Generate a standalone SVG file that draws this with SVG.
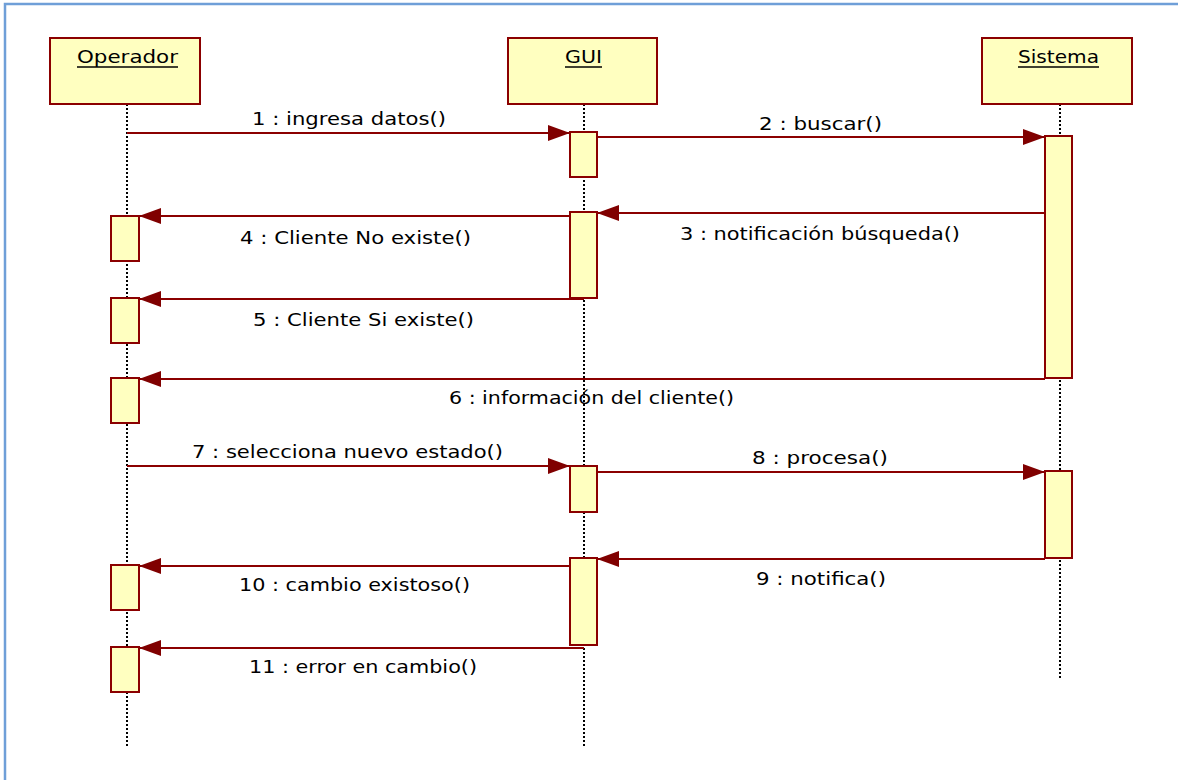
<svg xmlns="http://www.w3.org/2000/svg" width="1178" height="780" viewBox="0 0 1178 780">
  <style>
    .frame { fill: none; stroke: #6f9fd8; stroke-width: 2.5; }
    .head { fill: #ffffc0; stroke: #8b0000; stroke-width: 2; }
    .bar { fill: #ffffc0; stroke: #8b0000; stroke-width: 2; }
    .life { stroke: #000; stroke-width: 2; stroke-dasharray: 2 2; fill: none; }
    .msg { stroke: #8b0000; stroke-width: 2; fill: none; marker-end: url(#arrow); }
    .lbl { font-family: "DejaVu Sans", Verdana, sans-serif; font-size: 18px; fill: #000; text-anchor: middle; }
    .name { font-family: "DejaVu Sans", Verdana, sans-serif; font-size: 18px; fill: #000; text-anchor: middle; }
    .ul { stroke: #000; stroke-width: 1.5; }
  </style>
  <defs>
    <marker id="arrow" markerUnits="userSpaceOnUse" markerWidth="24" markerHeight="18" refX="22" refY="8" orient="auto">
      <path d="M0,0 L22,8 L0,16 z" fill="#800000"/>
    </marker>
  </defs>

  <rect width="1178" height="780" fill="#fff"/>
  <rect class="frame" x="5" y="4" width="1200" height="800"/>

  <!-- lifelines -->
  <g id="lifelines">
    <line class="life" x1="127" y1="104" x2="127" y2="746"/>
    <line class="life" x1="584" y1="104" x2="584" y2="746"/>
    <line class="life" x1="1060" y1="104" x2="1060" y2="680"/>
  </g>

  <!-- objects -->
  <g id="operador">
    <rect class="head" x="50" y="38" width="150" height="66"/>
    <text class="name" x="127.5" y="63" textLength="101" lengthAdjust="spacingAndGlyphs">Operador</text>
    <line class="ul" x1="77" y1="67" x2="178" y2="67"/>
    <rect class="bar" x="111" y="216" width="28" height="45"/>
    <rect class="bar" x="111" y="298" width="28" height="45"/>
    <rect class="bar" x="111" y="378" width="28" height="45"/>
    <rect class="bar" x="111" y="565" width="28" height="45"/>
    <rect class="bar" x="111" y="647" width="28" height="45"/>
  </g>

  <g id="gui">
    <rect class="head" x="508" y="38" width="149" height="66"/>
    <text class="name" x="583.5" y="63" textLength="37" lengthAdjust="spacingAndGlyphs">GUI</text>
    <line class="ul" x1="565" y1="67" x2="602" y2="67"/>
    <rect class="bar" x="570" y="132" width="27" height="45"/>
    <rect class="bar" x="570" y="212" width="27" height="86"/>
    <rect class="bar" x="570" y="466" width="27" height="46"/>
    <rect class="bar" x="570" y="558" width="27" height="87"/>
  </g>

  <g id="sistema">
    <rect class="head" x="982" y="38" width="150" height="66"/>
    <text class="name" x="1058.5" y="63" textLength="81" lengthAdjust="spacingAndGlyphs">Sistema</text>
    <line class="ul" x1="1018" y1="67" x2="1099" y2="67"/>
    <rect class="bar" x="1045" y="136" width="27" height="242"/>
    <rect class="bar" x="1045" y="471" width="27" height="87"/>
  </g>

  <!-- messages -->
  <g id="connectors">
    <line class="msg" x1="127" y1="133" x2="570" y2="133"/>
    <line class="msg" x1="597" y1="137" x2="1045" y2="137"/>
    <line class="msg" x1="1045" y1="213" x2="597" y2="213"/>
    <line class="msg" x1="570" y1="216" x2="139" y2="216"/>
    <line class="msg" x1="584" y1="299" x2="139" y2="299"/>
    <line class="msg" x1="1045" y1="379" x2="139" y2="379"/>
    <line class="msg" x1="127" y1="466" x2="570" y2="466"/>
    <line class="msg" x1="597" y1="472" x2="1045" y2="472"/>
    <line class="msg" x1="1045" y1="559" x2="597" y2="559"/>
    <line class="msg" x1="570" y1="566" x2="139" y2="566"/>
    <line class="msg" x1="584" y1="648" x2="139" y2="648"/>
  </g>

  <g id="labels">
    <text class="lbl" x="349" y="125" textLength="194" lengthAdjust="spacingAndGlyphs">1 : ingresa datos()</text>
    <text class="lbl" x="820.5" y="130" textLength="123" lengthAdjust="spacingAndGlyphs">2 : buscar()</text>
    <text class="lbl" x="820" y="240" textLength="280" lengthAdjust="spacingAndGlyphs">3 : notificación búsqueda()</text>
    <text class="lbl" x="355.5" y="244" textLength="231" lengthAdjust="spacingAndGlyphs">4 : Cliente No existe()</text>
    <text class="lbl" x="363.5" y="326" textLength="221" lengthAdjust="spacingAndGlyphs">5 : Cliente Si existe()</text>
    <text class="lbl" x="591.5" y="404" textLength="285" lengthAdjust="spacingAndGlyphs">6 : información del cliente()</text>
    <text class="lbl" x="347.5" y="458" textLength="311" lengthAdjust="spacingAndGlyphs">7 : selecciona nuevo estado()</text>
    <text class="lbl" x="820" y="464" textLength="136" lengthAdjust="spacingAndGlyphs">8 : procesa()</text>
    <text class="lbl" x="821" y="585" textLength="130" lengthAdjust="spacingAndGlyphs">9 : notifica()</text>
    <text class="lbl" x="354.5" y="591" textLength="231" lengthAdjust="spacingAndGlyphs">10 : cambio existoso()</text>
    <text class="lbl" x="363" y="673" textLength="228" lengthAdjust="spacingAndGlyphs">11 : error en cambio()</text>
  </g>
</svg>
